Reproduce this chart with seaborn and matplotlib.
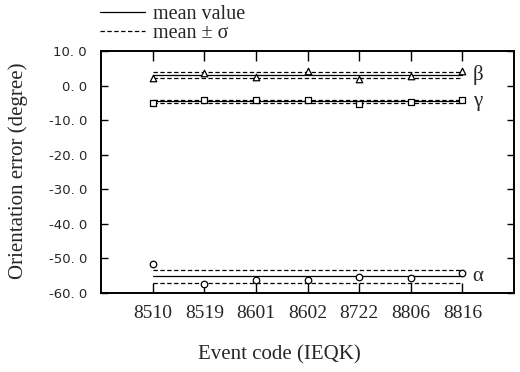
import numpy as np
import pandas as pd
import matplotlib
matplotlib.use("Agg")
import matplotlib.pyplot as plt
from matplotlib.lines import Line2D
import seaborn as sns

events = ["8510", "8519", "8601", "8602", "8722", "8806", "8816"]
alpha = [-51.7, -57.5, -56.2, -56.2, -55.3, -55.8, -54.3]
beta = [2.2, 3.6, 2.4, 4.3, 1.9, 2.9, 4.1]
gamma = [-5.1, -4.1, -4.3, -4.1, -5.4, -4.8, -4.3]
series_names = ["α", "β", "γ"]
means = [-55.2, 3.0, -4.6]
sigmas = [1.8, 0.8, 0.4]
ytick_vals = [10, 0, -10, -20, -30, -40, -50, -60]
ytick_labels = ["10. 0", "0. 0", "-10. 0", "-20. 0", "-30. 0", "-40. 0", "-50. 0", "-60. 0"]

sns.set_style("ticks")
plt.rcParams["font.family"] = ["Liberation Serif", "DejaVu Serif"]

fig = plt.figure(figsize=(5.2, 3.72), dpi=100)
ax = fig.add_axes([101 / 520, 79 / 372, 413 / 520, 242 / 372])

x = np.arange(len(events))
markers = ["o", "^", "s"]
values = [alpha, beta, gamma]
dash = (0, (3.5, 2.0))
for name, vals, mk, m, s in zip(series_names, values, markers, means, sigmas):
    df = pd.DataFrame({"x": x, "v": vals})
    sns.scatterplot(data=df, x="x", y="v", marker=mk, s=22, facecolor="white",
                    edgecolor="black", linewidth=0.9, ax=ax, zorder=3)
    dl = pd.DataFrame({"x": x, "m": [m] * len(x), "hi": [m + s] * len(x), "lo": [m - s] * len(x)})
    sns.lineplot(data=dl, x="x", y="m", color="black", linewidth=0.9, ax=ax)
    sns.lineplot(data=dl, x="x", y="hi", color="black", linewidth=0.9, ax=ax, linestyle=dash)
    sns.lineplot(data=dl, x="x", y="lo", color="black", linewidth=0.9, ax=ax, linestyle=dash)
    ax.text(x[-1] + 0.2, m, name, fontsize=15, va="center", ha="left")

ax.set_xlim(-1, 7)
ax.set_ylim(-60, 10)
ax.set_xticks(x)
ax.set_xticklabels(events, fontsize=14)
ax.set_yticks(ytick_vals)
ax.set_yticklabels(ytick_labels, fontsize=9.5, family="DejaVu Sans")
ax.tick_params(direction="in", top=True, right=True, width=1, color="black")
ax.tick_params(axis="x", pad=9, length=7)
ax.tick_params(axis="y", pad=10, length=5)
for sp in ax.spines.values():
    sp.set_linewidth(1.4)
    sp.set_color("black")
ax.set_xlabel("Event code (IEQK)", fontsize=15)
ax.xaxis.set_label_coords(0.433, -0.256)
ax.set_ylabel("Orientation error (degree)", fontsize=15)
ax.yaxis.set_label_coords(-0.201, 0.504)
ax.xaxis.label.set_va("center")
ax.yaxis.label.set_va("center")

handles = [Line2D([], [], color="black", linewidth=0.9),
           Line2D([], [], color="black", linewidth=0.9, linestyle=dash)]
fig.legend(handles, ["mean value", "mean ± σ"], loc="upper left",
           bbox_to_anchor=(100 / 520, 1 - 5 / 372), frameon=False, fontsize=14.5,
           handlelength=2.25, handletextpad=0.4, labelspacing=0.0, borderpad=0, borderaxespad=0)

fig.savefig("out.png", dpi=100)
